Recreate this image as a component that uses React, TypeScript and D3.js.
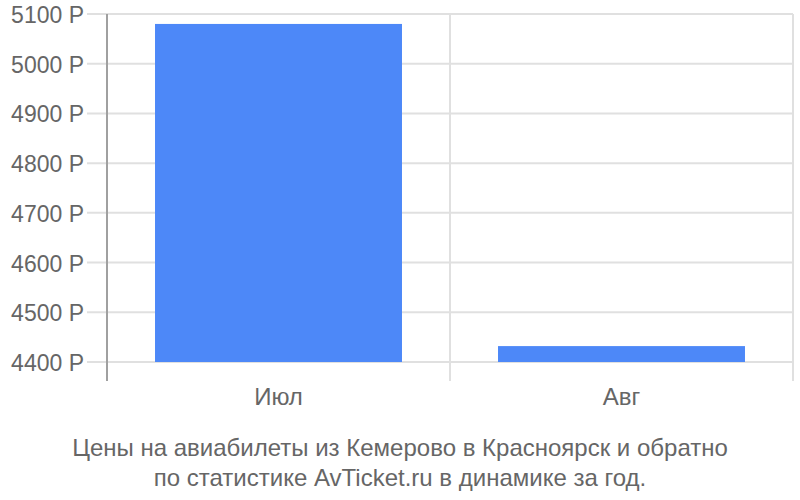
import * as d3 from "d3";
import { useEffect, useRef } from "react";

const months = ["Июл", "Авг"];
const prices = [5080, 4432];
const yTicks = [4400, 4500, 4600, 4700, 4800, 4900, 5000, 5100];
const titleLines = [
  "Цены на авиабилеты из Кемерово в Красноярск и обратно",
  "по статистике AvTicket.ru в динамике за год.",
];

export default function App() {
  const ref = useRef<SVGSVGElement | null>(null);

  useEffect(() => {
    if (!ref.current) return;
    const svg = d3.select(ref.current);
    svg.selectAll("*").remove();

    const width = 800;
    const height = 500;
    const left = 107;
    const right = 793;
    const top = 14;
    const bottom = 362;
    const font = "'Liberation Sans', Arial, sans-serif";

    const x = d3
      .scaleBand()
      .domain(months)
      .range([left, right])
      .paddingInner(0.28)
      .paddingOuter(0.14);
    const step = x.step();

    const y = d3.scaleLinear().domain([4400, 5100]).range([bottom, top]);

    svg.attr("width", width).attr("height", height);

    // horizontal grid
    svg
      .append("g")
      .selectAll("line")
      .data(yTicks)
      .enter()
      .append("line")
      .attr("x1", 87)
      .attr("x2", right)
      .attr("y1", (d) => y(d))
      .attr("y2", (d) => y(d))
      .attr("stroke", "#e0e0e0")
      .attr("stroke-width", 2);

    // vertical grid at category boundaries
    const bounds = months.map((m) => x(m)! - (step * 0.28) / 2 + step);
    svg
      .append("g")
      .selectAll("line")
      .data(bounds)
      .enter()
      .append("line")
      .attr("x1", (d) => d)
      .attr("x2", (d) => d)
      .attr("y1", top)
      .attr("y2", 381)
      .attr("stroke", "#e0e0e0")
      .attr("stroke-width", 2);

    // bars
    svg
      .append("g")
      .selectAll("rect")
      .data(months)
      .enter()
      .append("rect")
      .attr("x", (d) => x(d)!)
      .attr("y", (_, i) => y(prices[i]))
      .attr("width", x.bandwidth())
      .attr("height", (_, i) => bottom - y(prices[i]))
      .attr("fill", "#4d88f8");

    // left axis line
    svg
      .append("line")
      .attr("x1", left)
      .attr("x2", left)
      .attr("y1", top)
      .attr("y2", 381)
      .attr("stroke", "#a0a0a0")
      .attr("stroke-width", 2);

    // y labels
    svg
      .append("g")
      .selectAll("text")
      .data(yTicks)
      .enter()
      .append("text")
      .attr("x", 84)
      .attr("y", (d) => y(d) + 9)
      .attr("text-anchor", "end")
      .attr("font-family", font)
      .attr("font-size", 23)
      .attr("fill", "#666")
      .text((d) => `${d} Р`);

    // x labels
    svg
      .append("g")
      .selectAll("text")
      .data(months)
      .enter()
      .append("text")
      .attr("x", (d) => x(d)! + x.bandwidth() / 2)
      .attr("y", 405)
      .attr("text-anchor", "middle")
      .attr("font-family", font)
      .attr("font-size", 24)
      .attr("fill", "#666")
      .text((d) => d);

    // title
    svg
      .append("g")
      .selectAll("text")
      .data(titleLines)
      .enter()
      .append("text")
      .attr("x", 400)
      .attr("y", (_, i) => 456 + i * 30)
      .attr("text-anchor", "middle")
      .attr("font-family", font)
      .attr("font-size", 24)
      .attr("fill", "#666")
      .text((d) => d);
  }, []);

  return (
    <div>
      <svg ref={ref} style={{ position: "absolute", left: 0, top: 0 }}></svg>
    </div>
  );
}
